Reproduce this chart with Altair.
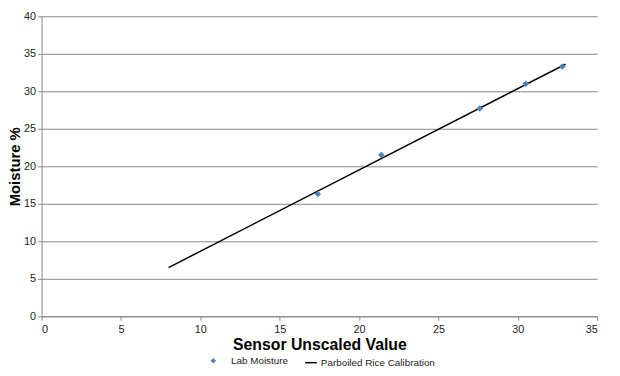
import altair as alt
import pandas as pd

# Lab moisture measurements
sensor = [17.4, 21.4, 27.6, 30.5, 32.8]
moisture = [16.3, 21.5, 27.7, 31.0, 33.3]

# Calibration line endpoints
cal_x = [8.0, 33.0]
cal_y = [6.5, 33.6]

pts = pd.DataFrame({"x": sensor, "y": moisture, "series": ["Lab Moisture"] * len(sensor)})
line = pd.DataFrame({"x": cal_x, "y": cal_y, "series": ["Parboiled Rice Calibration"] * len(cal_x)})

FONT = "Liberation Sans"
TOP = 6
LEFT = 34
LEG_Y = 360 - 8 - TOP - 2

xenc = alt.X("x:Q", scale=alt.Scale(domain=[0, 35], nice=False),
             axis=alt.Axis(values=[0, 5, 10, 15, 20, 25, 30, 35], title="Sensor Unscaled Value",
                           grid=False, tickSize=4, labelPadding=3, titlePadding=3))
yenc = alt.Y("y:Q", scale=alt.Scale(domain=[0, 40], nice=False),
             axis=alt.Axis(values=[0, 5, 10, 15, 20, 25, 30, 35, 40], title="Moisture %",
                           grid=True, tickSize=4, labelPadding=2, titlePadding=1,
                           titleFontSize=15))

point_layer = alt.Chart(pts).mark_point(shape="diamond", filled=True, size=45, opacity=1).encode(
    x=xenc, y=yenc,
    color=alt.Color("series:N", scale=alt.Scale(domain=["Lab Moisture"], range=["#4F81BD"]),
                    legend=alt.Legend(title=None, orient="none", legendX=171 - (LEFT - 32), legendY=LEG_Y,
                                      symbolType="diamond", symbolSize=30, labelFontSize=10,
                                      labelFont=FONT, labelColor="#222", labelOffset=13)),
)

line_layer = alt.Chart(line).mark_line(strokeWidth=1.5).encode(
    x=xenc, y=yenc,
    stroke=alt.Stroke("series:N", scale=alt.Scale(domain=["Parboiled Rice Calibration"], range=["#000000"]),
                      legend=alt.Legend(title=None, orient="none", legendX=268 - (LEFT - 32), legendY=LEG_Y,
                                        symbolType="stroke", symbolSize=144, symbolStrokeWidth=1.5,
                                        labelFontSize=10, labelFont=FONT, labelColor="#222",
                                        labelOffset=3)),
)

chart = alt.layer(line_layer, point_layer).resolve_scale(color="independent", stroke="independent").properties(
    width=605 - 8 - LEFT, height=318 - 8 - TOP,
    autosize=alt.AutoSizeParams(type="none"),
    padding={"left": LEFT, "top": TOP, "right": 15, "bottom": 50},
).configure_view(stroke=None).configure_axis(
    labelFont=FONT, labelFontSize=11, labelColor="#222",
    titleFont=FONT, titleFontSize=16, titleFontWeight="bold", titleColor="#000",
    domainColor="#868686", tickColor="#868686", gridColor="#868686", gridWidth=1,
    domainWidth=1,
)

chart.save("out.html", embed_options={"renderer": "svg", "actions": False})
